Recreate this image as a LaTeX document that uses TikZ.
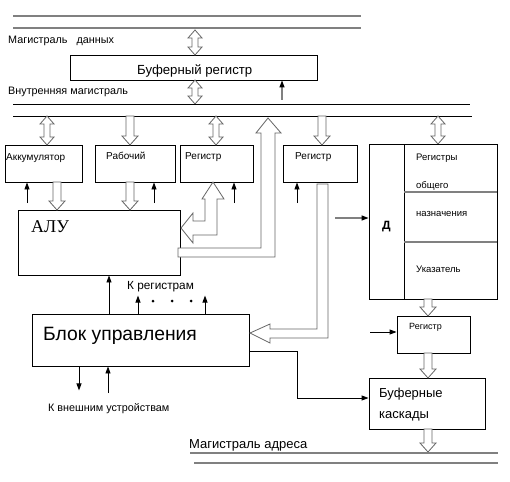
\documentclass[tikz,border=0pt]{standalone}
\usepackage{fontspec}
\setmainfont{Liberation Sans}
\newfontfamily\alufont{Liberation Serif}
\usetikzlibrary{arrows.meta}

% hollow arrows: x, top y, bottom y
\newcommand{\twoway}[3]{%
  \draw[hollow] (#1,#2) -- (#1+7,#2+8) -- (#1+3,#2+8) -- (#1+3,#3-8) -- (#1+7,#3-8)
    -- (#1,#3) -- (#1-7,#3-8) -- (#1-3,#3-8) -- (#1-3,#2+8) -- (#1-7,#2+8) -- cycle;}
\newcommand{\oneway}[3]{%
  \draw[hollow] (#1-4,#2) -- (#1-4,#3-9) -- (#1-8,#3-9) -- (#1,#3)
    -- (#1+8,#3-9) -- (#1+4,#3-9) -- (#1+4,#2) -- cycle;}

\begin{document}
\begin{tikzpicture}[x=1pt, y=-1pt,
  box/.style={draw, line width=0.9pt, inner sep=0pt},
  hollow/.style={draw=black!60, line width=0.8pt, fill=white},
  sig/.style={-{Triangle[length=7pt,width=5pt]}, line width=0.9pt},
  gsig/.style={-{Triangle[length=7pt,width=5pt,color=black]}, draw=gray, line width=1.2pt},
  bus/.style={line width=2pt, gray},
  txt/.style={inner sep=0pt, anchor=base west, font=\fontsize{10.8}{12}\selectfont},
  small/.style={txt, font=\fontsize{10}{11}\selectfont},
]
\useasboundingbox (0,0) rectangle (510,481);

% data bus
\draw[bus] (13,16) -- (361,16);
\draw[bus] (13,28) -- (361,28);
\node[txt] (t-data) at (8,44) {Магистраль\hspace{9pt}данных};

% buffer register
\node[box, minimum width=247pt, minimum height=25pt] (bufreg) at (193.5,67.5) {};
\node[txt, font=\fontsize{13.2}{15}\selectfont] (t-bufreg) at (137,75) {Буферный регистр};
\twoway{195}{30}{55}
\twoway{195}{80}{104}
\coordinate (in-bufreg) at (282,100);
\draw[gsig] (in-bufreg) -- (in-bufreg |- bufreg.south);

% internal bus
\node[txt] (t-int) at (8,95) {Внутренняя магистраль};
\draw[line width=0.9pt] (13,104) -- (470,104);
\draw[line width=0.9pt] (13,116) -- (472,116);

% registers under the bus
\node[box, minimum width=77pt, minimum height=37pt] (acc) at (43.5,163.5) {};
\node[box, minimum width=80pt, minimum height=37pt] (work) at (135,163.5) {};
\node[box, minimum width=73pt, minimum height=37pt] (reg1) at (216.5,163.5) {};
\node[box, minimum width=74pt, minimum height=37pt] (reg2) at (320,163.5) {};
\node[small] (t-acc) at (6,160) {Аккумулятор};
\node[small] (t-work) at (106,159) {Рабочий};
\node[small] (t-reg1) at (185,159) {Регистр};
\node[small] (t-reg2) at (295,159) {Регистр};
\twoway{47}{116}{145}
\oneway{130}{116}{145}
\twoway{216}{116}{145}
\oneway{322}{116}{145}
\twoway{438}{116}{144}

\coordinate (in-acc) at (27,203);
\coordinate (in-work) at (154,203);
\coordinate (in-reg1) at (234,203);
\coordinate (in-reg2) at (297,203);
\foreach \c/\b in {in-acc/acc, in-work/work, in-reg1/reg1, in-reg2/reg2}
  \draw[sig] (\c) -- (\c |- \b.south);

% general purpose registers
\node[box, minimum width=128pt, minimum height=155pt] (gpr) at (433,221.5) {};
\draw[line width=0.9pt] (404,144) -- (404,299);
\draw[gray, line width=1.2pt] (404,192) -- (497,192);
\draw[gray, line width=1.2pt] (404,242) -- (497,242);
\node[txt, anchor=base, font=\fontsize{12}{14}\bfseries] (t-d) at (386.5,229) {Д};
\node[small, font=\fontsize{9.5}{11}\selectfont] (t-gpr1) at (416,160) {Регистры};
\node[small, font=\fontsize{9.5}{11}\selectfont] (t-gpr2) at (416,188) {общего};
\node[small, font=\fontsize{9.5}{11}\selectfont] (t-gpr3) at (416,216) {назначения};
\node[small, font=\fontsize{9.5}{11}\selectfont] (t-ptr) at (416,272) {Указатель};
\coordinate (in-gpr) at (335,218);
\draw[gsig] (in-gpr) -- (in-gpr -| gpr.west);

% ALU
\node[box, minimum width=162pt, minimum height=65pt] (alu) at (99,242.5) {};
\node[txt, font=\alufont\fontsize{18}{20}\selectfont] (t-alu) at (31,232) {АЛУ};
\oneway{57}{182}{210}
\oneway{130}{182}{210}
\draw[hollow] (213,182) -- (224,199) -- (217,199) -- (217,235) -- (193,235) -- (193,243)
  -- (181,228) -- (193,213) -- (193,221) -- (205,221) -- (205,199) -- (202,199) -- cycle;
\draw[hollow] (178,248) -- (261,248) -- (261,133) -- (256,133) -- (268,118) -- (281,133)
  -- (275,133) -- (275,257) -- (178,257) -- cycle;

% control unit
\node[box, minimum width=217pt, minimum height=52pt] (cu) at (140.5,340) {};
\node[txt, font=\fontsize{19.3}{21}\selectfont] (t-cu) at (43,340) {Блок управления};
\draw[hollow] (317,184) -- (328,184) -- (328,338) -- (270,338) -- (270,343) -- (250,333)
  -- (270,324) -- (270,329) -- (317,329) -- cycle;
\draw[sig] (cu.north -| 109,0) -- (alu.south -| 109,0);
\draw[sig] (cu.north -| 138,0) -- ++(0,-18);
\draw[sig] (cu.north -| 205,0) -- ++(0,-18);
\foreach \x in {153,172,191}
  \fill (\x,301) circle (1.5);
\node[txt, font=\fontsize{11.8}{13}\selectfont] (t-toregs) at (127,289) {К регистрам};
\draw[sig] (cu.south -| 79,0) -- ++(0,24);
\draw[sig] (108,393) -- (cu.south -| 108,0);
\node[txt] (t-ext) at (48,411) {К внешним устройствам};

% address side
\node[box, minimum width=73pt, minimum height=37pt] (reg3) at (433.5,334.5) {};
\node[small, font=\fontsize{9}{10}\selectfont] (t-reg3) at (409,329) {Регистр};
\node[box, minimum width=116pt, minimum height=51pt] (bufout) at (427,403.5) {};
\node[txt, font=\fontsize{13}{15}\selectfont] (t-buf1) at (379,397) {Буферные};
\node[txt, font=\fontsize{13}{15}\selectfont] (t-buf2) at (379,418) {каскады};
\oneway{428}{299}{316}
\oneway{428}{353}{378}
\oneway{428}{429}{452}
\coordinate (in-reg3) at (370,332);
\draw[sig] (in-reg3) -- (in-reg3 -| reg3.west);
\draw[sig] (cu.east |- 0,351) -- (297,351) -- (297,398) -- (bufout.west |- 0,398);

% address bus
\node[txt, font=\fontsize{13}{15}\selectfont] (t-addr) at (189,448) {Магистраль адреса};
\draw[bus] (190,453) -- (498,453);
\draw[bus] (194,463) -- (498,463);
\end{tikzpicture}
\end{document}
